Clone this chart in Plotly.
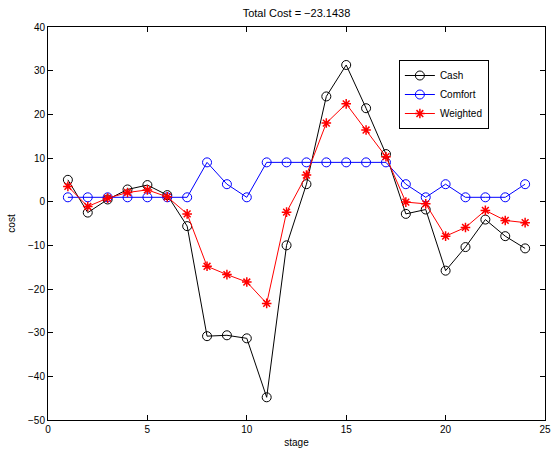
import plotly.graph_objects as go

stage = list(range(1, 25))
cash = [5.0, -2.5, 0.5, 2.8, 3.8, 1.5, -5.6, -30.8, -30.6, -31.3, -44.8, -10.0,
        4.0, 24.1, 31.3, 21.4, 10.9, -2.8, -1.8, -15.8, -10.4, -4.1, -7.9, -10.7]
comfort = [1, 1, 1, 1, 1, 1, 1, 9, 4, 1, 9, 9, 9, 9, 9, 9, 9, 4, 1, 4, 1, 1, 1, 4]
weighted = [3.5, -1.1, 0.8, 2.1, 2.7, 1.1, -2.8, -14.8, -16.7, -18.4, -23.3, -2.4,
            6.1, 18.0, 22.4, 16.4, 10.3, -0.1, -0.5, -7.9, -5.9, -2.0, -4.3, -4.8]
x_ticks = [0, 5, 10, 15, 20, 25]
y_ticks = [-50, -40, -30, -20, -10, 0, 10, 20, 30, 40]
title_text = "Total Cost = \u221223.1438"

font = dict(family="Liberation Sans, Arial, sans-serif", size=10, color="black")

fig = go.Figure()
fig.add_trace(go.Scatter(x=stage, y=cash, name="Cash", mode="lines+markers",
                         line=dict(color="black", width=1),
                         marker=dict(symbol="circle-open", size=9, color="black",
                                     line=dict(width=1))))
fig.add_trace(go.Scatter(x=stage, y=comfort, name="Comfort", mode="lines+markers",
                         line=dict(color="blue", width=1),
                         marker=dict(symbol="circle-open", size=9, color="blue",
                                     line=dict(width=1))))
fig.add_trace(go.Scatter(x=stage, y=weighted, name="Weighted", mode="lines+markers",
                         line=dict(color="red", width=1),
                         marker=dict(symbol="asterisk-open", size=8, color="red",
                                     line=dict(width=1.5, color="red"))))

axis_common = dict(showgrid=False, zeroline=False, showline=True, linecolor="black",
                   linewidth=1, mirror="ticks", ticks="inside", ticklen=5,
                   tickcolor="black", tickfont=font, automargin=False)

fig.update_layout(
    width=560, height=449,
    margin=dict(l=48, r=15, t=27, b=29),
    paper_bgcolor="white", plot_bgcolor="white",
    font=font,
    title=dict(text=title_text, x=0.5, xref="paper", xanchor="center",
               y=1 - 13 / 449, yanchor="middle", font=dict(size=11)),
    xaxis=dict(range=[0, 25], tickvals=x_ticks,
               title=dict(text="stage", standoff=4, font=dict(size=10)),
               **axis_common),
    yaxis=dict(range=[-50, 40], tickvals=y_ticks,
               title=dict(text="cost", standoff=10, font=dict(size=10)),
               **axis_common),
    legend=dict(x=0.706, y=0.916, xanchor="left", yanchor="top",
                bordercolor="black", borderwidth=1, bgcolor="white",
                font=dict(size=10), tracegroupgap=0, itemwidth=30),
    showlegend=True,
)

fig.write_html("out.html")
